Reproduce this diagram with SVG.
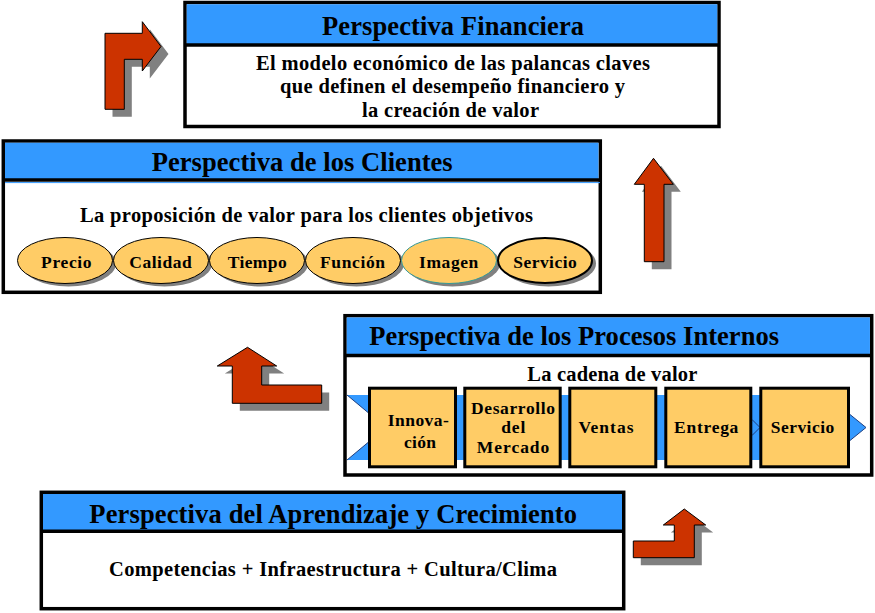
<svg xmlns="http://www.w3.org/2000/svg" width="875" height="613" viewBox="0 0 875 613">
<style>
  .panel { fill: #FFFFFF; stroke: #000000; stroke-width: 3.5; }
  .head { fill: #3399FF; }
  .sep { stroke: #000000; stroke-width: 3.5; }
  text { font-family: "Liberation Serif", "Times New Roman", serif; font-weight: bold; fill: #000000; }
  .title { font-size: 26.5px; }
  .body { font-size: 20.5px; }
  .lbl { font-size: 17.5px; text-anchor: middle; }
  .oval { fill: #FFCC66; stroke: #000000; stroke-width: 1; }
  .ovsh { fill: #808080; }
  .box { fill: #FFCC66; stroke: #000000; stroke-width: 3; }
  .arrow { fill: #CC3300; stroke: #000000; stroke-width: 1; }
  .ash { fill: #808080; }
</style>
<rect x="0" y="0" width="875" height="613" fill="#FFFFFF"/>

<g id="financiera">
  <rect class="panel" x="185" y="2.5" width="534" height="124"/>
  <rect class="head" x="186.75" y="4.25" width="530.5" height="40.75"/>
  <line class="sep" x1="185" y1="45" x2="719" y2="45"/>
  <text class="title" x="322" y="34.5" textLength="262" lengthAdjust="spacing">Perspectiva Financiera</text>
  <text class="body" x="256" y="70" textLength="394" lengthAdjust="spacing">El modelo económico de las palancas claves</text>
  <text class="body" x="280" y="93.3" textLength="345" lengthAdjust="spacing">que definen el desempeño financiero y</text>
  <text class="body" x="362" y="116.7" textLength="177" lengthAdjust="spacing">la creación de valor</text>
</g>

<g id="clientes">
  <rect class="panel" x="3.3" y="141" width="597" height="151.3"/>
  <rect class="head" x="5" y="142.75" width="593.5" height="37.25"/>
  <line class="sep" x1="3.3" y1="180" x2="600.3" y2="180"/>
  <line x1="5" y1="182.6" x2="600" y2="182.6" stroke="#3399FF" stroke-width="1"/>
  <text class="title" x="151.7" y="170.7" textLength="301" lengthAdjust="spacing">Perspectiva de los Clientes</text>
  <text class="body" x="80" y="222" textLength="453" lengthAdjust="spacing">La proposición de valor para los clientes objetivos</text>
  <g id="oval-precio">
    <ellipse class="ovsh" cx="68.5" cy="263.5" rx="47.5" ry="23"/>
    <ellipse class="oval" cx="65" cy="260.5" rx="47.5" ry="23"/>
    <text class="lbl" x="66.3" y="267.7" textLength="50.5" lengthAdjust="spacing">Precio</text>
  </g>
  <g id="oval-calidad">
    <ellipse class="ovsh" cx="164.5" cy="263.5" rx="47.5" ry="23"/>
    <ellipse class="oval" cx="161" cy="260.5" rx="47.5" ry="23"/>
    <text class="lbl" x="160.5" y="267.7" textLength="62.4" lengthAdjust="spacing">Calidad</text>
  </g>
  <g id="oval-tiempo">
    <ellipse class="ovsh" cx="260.5" cy="263.5" rx="47.5" ry="23"/>
    <ellipse class="oval" cx="257" cy="260.5" rx="47.5" ry="23"/>
    <text class="lbl" x="257.2" y="267.7" textLength="59" lengthAdjust="spacing">Tiempo</text>
  </g>
  <g id="oval-funcion">
    <ellipse class="ovsh" cx="356.5" cy="263.5" rx="47.5" ry="23"/>
    <ellipse class="oval" cx="353" cy="260.5" rx="47.5" ry="23"/>
    <text class="lbl" x="352.5" y="267.7" textLength="65" lengthAdjust="spacing">Función</text>
  </g>
  <g id="oval-imagen">
    <ellipse class="ovsh" cx="452.5" cy="263.5" rx="47.5" ry="23"/>
    <ellipse class="oval" cx="449" cy="260.5" rx="47.5" ry="23" style="stroke:#339999"/>
    <text class="lbl" x="448.7" y="267.7" textLength="59.3" lengthAdjust="spacing">Imagen</text>
  </g>
  <g id="oval-servicio">
    <ellipse class="ovsh" cx="548.5" cy="263.5" rx="47.5" ry="23"/>
    <ellipse class="oval" cx="545" cy="260.5" rx="47" ry="22.5" style="stroke-width:2"/>
    <text class="lbl" x="545" y="267.7" textLength="63.4" lengthAdjust="spacing">Servicio</text>
  </g>
</g>

<g id="procesos">
  <rect class="panel" x="345" y="315.7" width="526.7" height="159.3"/>
  <rect class="head" x="346.75" y="317.45" width="523.2" height="38"/>
  <line class="sep" x1="345" y1="355.5" x2="871.7" y2="355.5"/>
  <text class="title" x="369.3" y="345" textLength="409.7" lengthAdjust="spacing">Perspectiva de los Procesos Internos</text>
  <text class="body" x="527.3" y="381" textLength="170" lengthAdjust="spacing">La cadena de valor</text>
  <polygon points="347,395 826,395 866,427.5 826,460 347,460 386,427.5" fill="#3399FF"/>
  <polyline points="347,395 386,427.5 347,460" fill="none" stroke="#1F3F7F" stroke-width="1"/>
  <polyline points="826,395 866,427.5 826,460" fill="none" stroke="#1F3F7F" stroke-width="1"/>
  <polyline points="752,419.5 760,427.5 752,435.5" fill="none" stroke="#1F3F7F" stroke-width="1"/>
  <g id="box-innovacion">
    <rect class="box" x="369.5" y="388.2" width="86" height="78.6"/>
    <text class="lbl" x="418.3" y="425.5" textLength="61" lengthAdjust="spacing">Innova-</text>
    <text class="lbl" x="420" y="447.5" textLength="32" lengthAdjust="spacing">ción</text>
  </g>
  <g id="box-desarrollo">
    <rect class="box" x="464.8" y="388.2" width="95.4" height="78.6"/>
    <text class="lbl" x="513" y="414.3" textLength="84" lengthAdjust="spacing">Desarrollo</text>
    <text class="lbl" x="513.3" y="433.3" textLength="24" lengthAdjust="spacing">del</text>
    <text class="lbl" x="513" y="452.7" textLength="72.6" lengthAdjust="spacing">Mercado</text>
  </g>
  <g id="box-ventas">
    <rect class="box" x="569.8" y="388.2" width="86" height="78.6"/>
    <text class="lbl" x="606" y="433" textLength="55" lengthAdjust="spacing">Ventas</text>
  </g>
  <g id="box-entrega">
    <rect class="box" x="665.8" y="388.2" width="85" height="78.6"/>
    <text class="lbl" x="706.2" y="433.3" textLength="64.3" lengthAdjust="spacing">Entrega</text>
  </g>
  <g id="box-servicio">
    <rect class="box" x="760.8" y="388.2" width="87.7" height="78.6"/>
    <text class="lbl" x="802.5" y="433.3" textLength="63.6" lengthAdjust="spacing">Servicio</text>
  </g>
</g>

<g id="aprendizaje">
  <rect class="panel" x="41.3" y="492.3" width="582.4" height="116.4"/>
  <rect class="head" x="43" y="494" width="579" height="37.3"/>
  <line class="sep" x1="41.3" y1="531.3" x2="623.7" y2="531.3"/>
  <text class="title" x="89.3" y="522.7" textLength="487.7" lengthAdjust="spacing">Perspectiva del Aprendizaje y Crecimiento</text>
  <text class="body" x="109" y="575.7" textLength="448" lengthAdjust="spacing">Competencias + Infraestructura + Cultura/Clima</text>
</g>

<g id="connectors">
  <g id="arrow-top-left">
    <polygon class="ash" transform="translate(7.5,7.5)" points="105,109.3 105,33.3 142.3,33.3 142.3,21.7 161,46.5 142.3,71 142.3,59.3 124.3,59.3 124.3,109.3"/>
    <polygon class="arrow" points="105,109.3 105,33.3 142.3,33.3 142.3,21.7 161,46.5 142.3,71 142.3,59.3 124.3,59.3 124.3,109.3"/>
  </g>
  <g id="arrow-right-up">
    <polygon class="ash" transform="translate(7.5,7.5)" points="653.5,158.3 673.3,184.3 664,184.3 664,261.7 644.3,261.7 644.3,184.3 634.3,184.3"/>
    <polygon class="arrow" points="653.5,158.3 673.3,184.3 664,184.3 664,261.7 644.3,261.7 644.3,184.3 634.3,184.3"/>
  </g>
  <g id="arrow-left-mid">
    <polygon class="ash" transform="translate(7.5,7.5)" points="247.5,347.3 276.7,366 261.7,366 261.7,385 321.7,385 321.7,403.3 232.3,403.3 232.3,366 217.3,366"/>
    <polygon class="arrow" points="247.5,347.3 276.7,366 261.7,366 261.7,385 321.7,385 321.7,403.3 232.3,403.3 232.3,366 217.3,366"/>
  </g>
  <g id="arrow-bottom-right">
    <polygon class="ash" transform="translate(7.5,7.5)" points="684.3,509 705.7,525 694.3,525 694.3,557.7 633.3,557.7 633.3,541 674.3,541 674.3,525 663.3,525"/>
    <polygon class="arrow" points="684.3,509 705.7,525 694.3,525 694.3,557.7 633.3,557.7 633.3,541 674.3,541 674.3,525 663.3,525"/>
  </g>
</g>
</svg>
